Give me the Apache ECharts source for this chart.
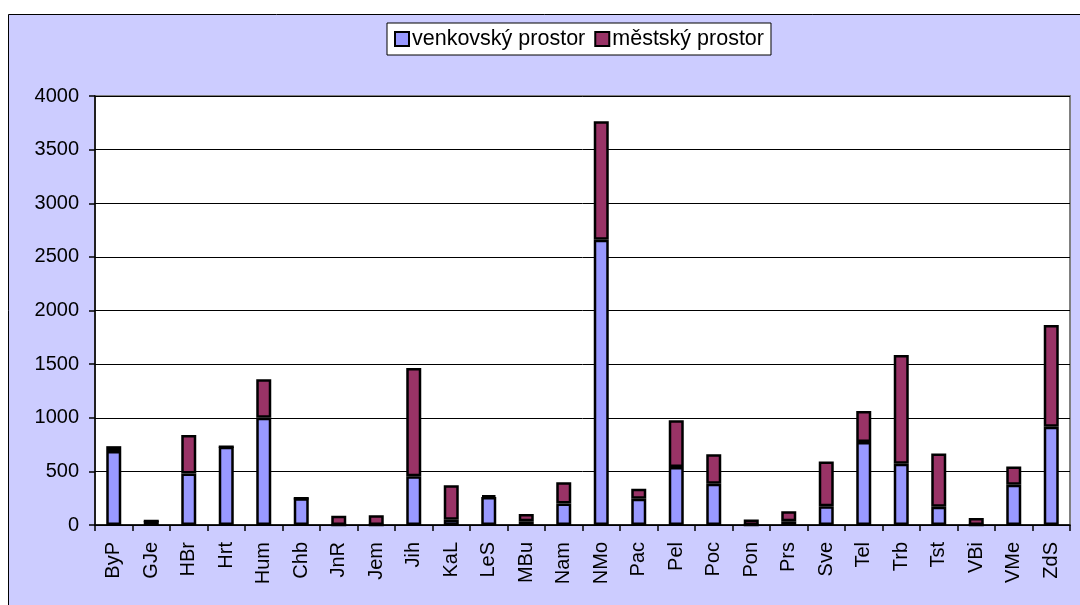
<!DOCTYPE html>
<html>
<head>
<meta charset="utf-8">
<script src="https://cdn.jsdelivr.net/npm/echarts@6/dist/echarts.min.js"></script>
<style>
html,body{margin:0;padding:0;background:#fff;}
#c{width:1080px;height:605px;}
</style>
</head>
<body>
<div id="c"></div>
<script>
const categories = ["ByP","GJe","HBr","Hrt","Hum","Chb","JnR","Jem","Jih","KaL","LeS","MBu","Nam","NMo","Pac","Pel","Poc","Pon","Prs","Sve","Tel","Trb","Tst","VBi","VMe","ZdS"];
const rural = [690,38,480,730,1000,250,0,0,455,50,260,35,200,2660,245,540,385,0,35,175,775,570,170,0,375,915];
const urban = [45,0,360,0,360,0,87,92,1010,320,14,68,198,1105,93,437,275,52,93,418,287,1015,496,65,170,950];
const seriesNames = ["venkovský prostor","městský prostor"];
const yTicks = {min:0,max:4000,interval:500};

const chart = echarts.init(document.getElementById('c'), null, {renderer:'canvas'});
const font = 'Liberation Sans, Arial, sans-serif';
chart.setOption({
  animation:false,
  backgroundColor:'#ffffff',
  textStyle:{fontFamily:font},
  graphic:[{type:'rect',z:-10,silent:true,shape:{x:8.5,y:14.5,width:1080,height:600},style:{fill:'#CCCCFF',stroke:'#000',lineWidth:1}}],
  legend:{
    data:seriesNames,
    left:387, top:23,
    backgroundColor:'#fff', borderColor:'#000', borderWidth:1, borderRadius:0,
    padding:[5,7,5,7],
    itemWidth:14, itemHeight:14, itemGap:9,
    icon:'rect',
    itemStyle:{borderColor:'#000',borderWidth:2},
    textStyle:{fontSize:21.5,color:'#000',fontFamily:font,padding:[0,0,0,-2]}
  },
  grid:{left:95,right:10,top:96,bottom:80,show:true,backgroundColor:'#fff',borderColor:'#808080',borderWidth:2},
  xAxis:{
    type:'category', data:categories,
    axisLine:{lineStyle:{color:'#000',width:1.5}},
    axisTick:{show:true,length:6,lineStyle:{color:'#000',width:1.5}},
    axisLabel:{rotate:90,fontSize:20,color:'#000',margin:17,fontFamily:font}
  },
  yAxis:{
    type:'value', min:yTicks.min, max:yTicks.max, interval:yTicks.interval,
    axisLine:{show:true,lineStyle:{color:'#000',width:1.5}},
    axisTick:{show:true,length:6,lineStyle:{color:'#000',width:1.5}},
    axisLabel:{fontSize:20,color:'#000',margin:16,fontFamily:font,formatter:function(v){return String(v);}},
    splitLine:{lineStyle:{color:'#000',width:1}}
  },
  series:[
    {name:seriesNames[0],type:'bar',stack:'a',data:rural,barWidth:15,
     itemStyle:{color:'#9999FF',borderColor:'#000',borderWidth:2.5}},
    {name:seriesNames[1],type:'bar',stack:'a',data:urban,barWidth:15,
     itemStyle:{color:'#993366',borderColor:'#000',borderWidth:2.5}}
  ]
});
</script>
</body>
</html>
